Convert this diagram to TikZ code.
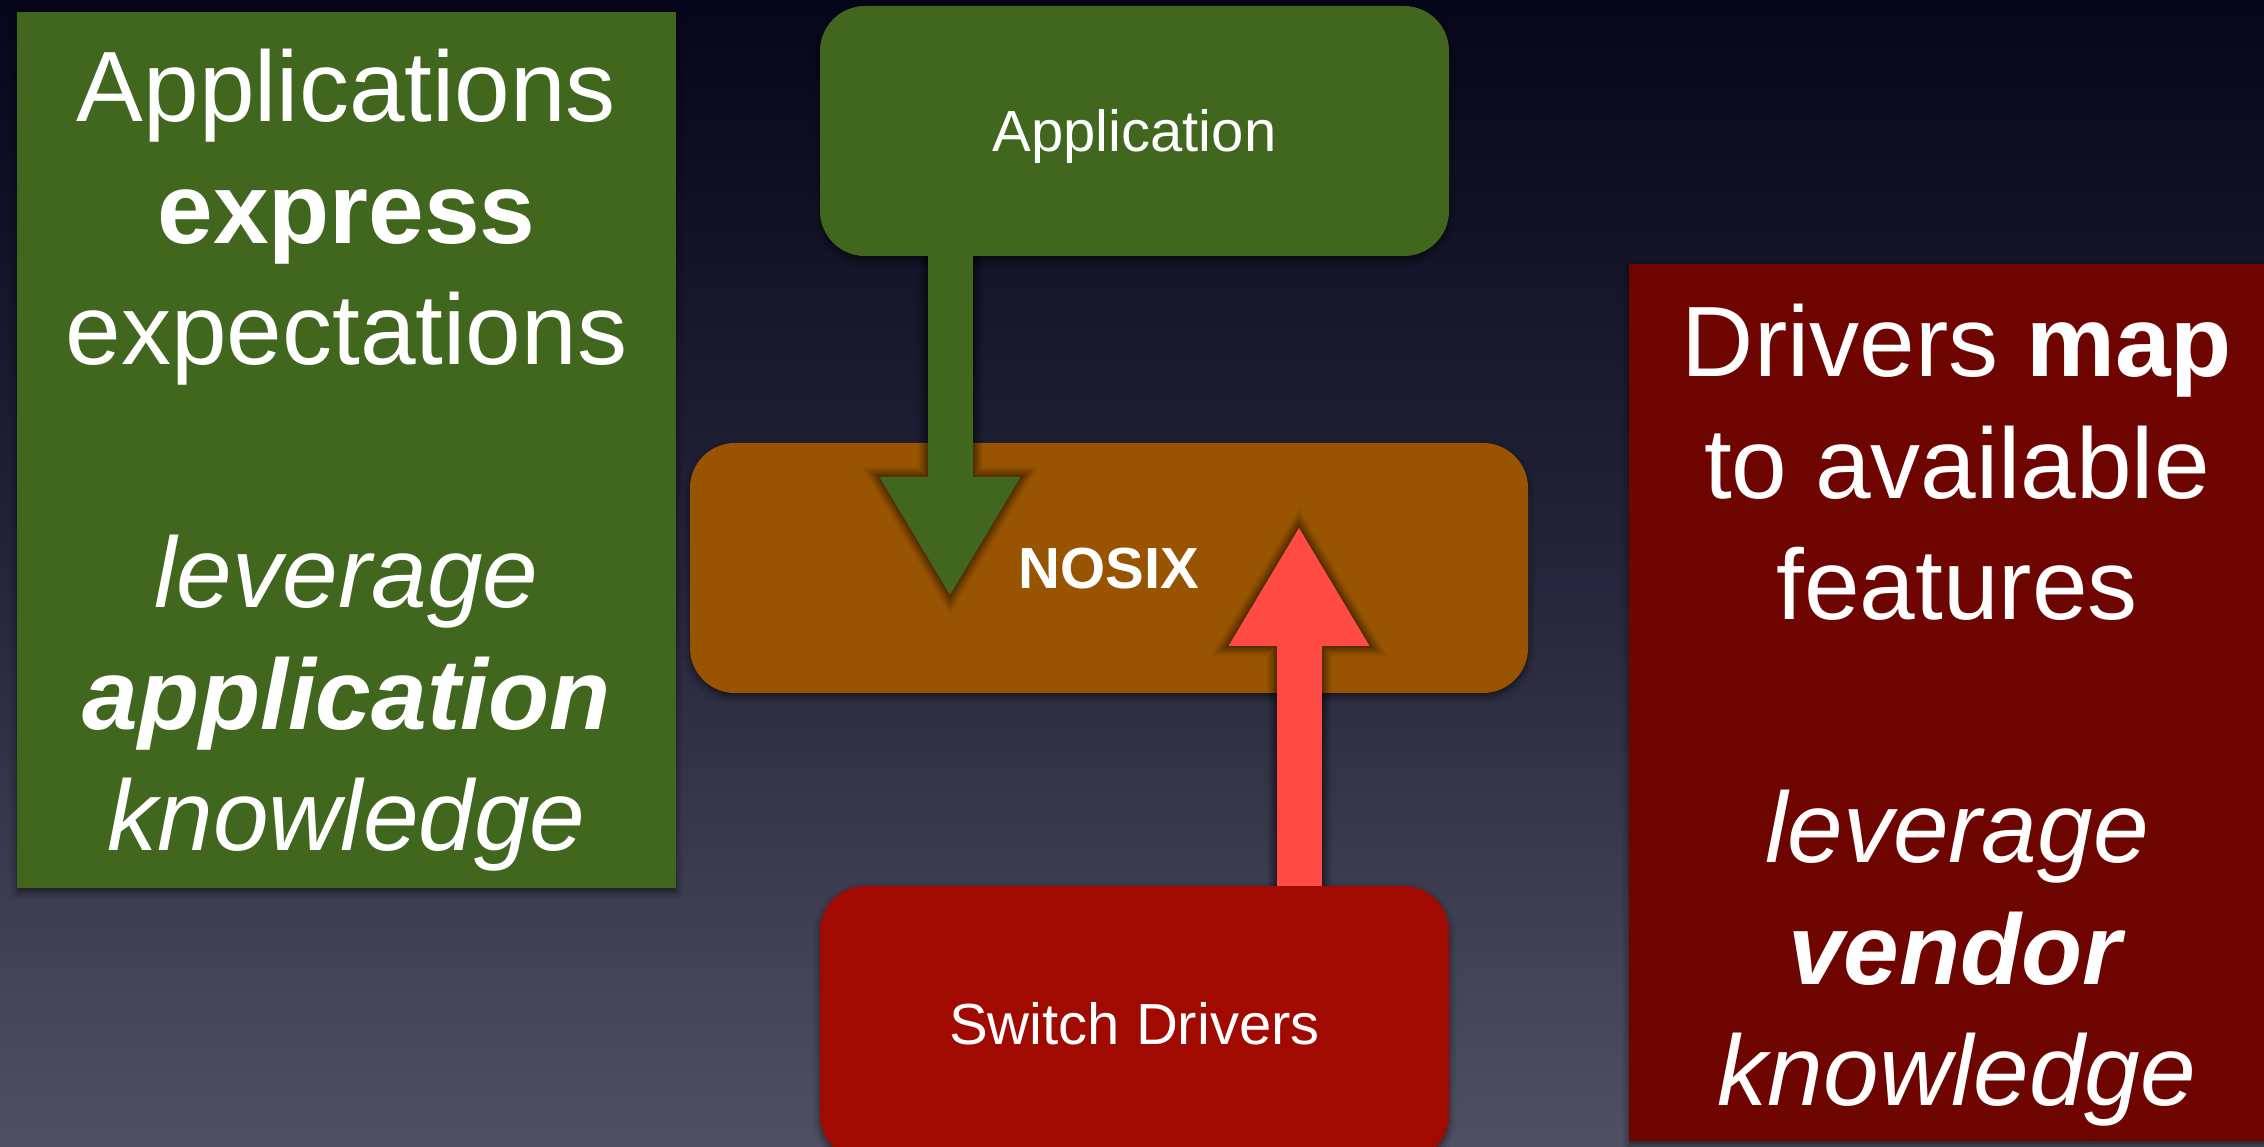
\documentclass[tikz,border=0pt]{standalone}
\usepackage{fontspec}
\setmainfont{Liberation Sans}
\usetikzlibrary{arrows.meta,shadows.blur}
\definecolor{bgtop}{HTML}{06061A}
\definecolor{bgmid}{HTML}{24253A}
\definecolor{bgbot}{HTML}{505064}
\definecolor{leaf}{HTML}{41671F}
\definecolor{amber}{HTML}{985400}
\definecolor{brick}{HTML}{A10A00}
\definecolor{maroon}{HTML}{6E0500}
\definecolor{coral}{HTML}{FF4B43}
\tikzset{
  boxshadow/.style={blur shadow={shadow xshift=0pt,shadow yshift=-4pt,shadow blur radius=7pt,shadow opacity=55}},
  layer/.style={rectangle, rounded corners=45pt, inner sep=0pt, minimum width=629pt,
    minimum height=250pt, text=white, text height=42pt, text depth=0pt,
    font=\fontsize{58pt}{70pt}\selectfont, boxshadow},
  panel/.style={rectangle, inner sep=0pt, boxshadow},
  paneltext/.style={text=white, align=center, inner sep=0pt,
    font=\fontsize{100pt}{121.5pt}\selectfont},
  % one ring of the soft shadow around a fat arrow: grown by #1, opacity #2
  halo/.style 2 args={preaction={draw=black, opacity=#2, line width=45pt+2*#1,
    line cap=butt, shorten >=-1.94*#1,
    -{Triangle[width=141pt+3.5*#1,length=118pt+2.94*#1,line width=0pt]}}},
  fatarrow/.style={draw=#1, line width=45pt, line cap=butt,
    halo={10pt}{0.06}, halo={8pt}{0.08}, halo={6pt}{0.10},
    halo={4pt}{0.12}, halo={2pt}{0.15},
    -{Triangle[width=141pt,length=118pt,line width=0pt]}}
}
\begin{document}
\begin{tikzpicture}[x=1pt,y=1pt]
\useasboundingbox (0,0) rectangle (2264,1146);
% slide background
\shade[top color=bgtop, bottom color=bgbot, middle color=bgmid] (0,0) rectangle (2264,1146);

% side panels
\node[panel, fill=leaf, minimum width=659pt, minimum height=876pt] (lpanel) at (346.5,696) {};
\node[paneltext] (ltext) at (346.5,685.5)
  {Applications\\ \textbf{express}\\ expectations\\[121.5pt]
   \textit{leverage}\\ \textbf{\textit{application}}\\ \textit{knowledge}};

\node[panel, fill=maroon, minimum width=651pt, minimum height=877pt] (rpanel) at (1954.5,443.5) {};
\node[paneltext] (rtext) at (1957,430.5)
  {Drivers \textbf{map}\\ to available\\ features\\[121.5pt]
   \textit{leverage}\\ \textbf{\textit{vendor}}\\ \textit{knowledge}};

% layer stack
\node[layer, fill=amber, minimum width=838pt, font=\fontsize{58pt}{70pt}\selectfont\bfseries] (nosix) at (1109,578) {NOSIX};
\node[layer, fill=leaf] (app) at (1134.5,1015) {Application};
\node[layer, fill=brick, minimum height=274pt] (drv) at (1134.5,123) {Switch Drivers};

% flows into NOSIX
\coordinate (gtip) at (950,551);
\coordinate (rtip) at (1299,618);
\draw[fatarrow=leaf] (app.south -| gtip) -- (gtip);
\draw[fatarrow=coral] (drv.north -| rtip) -- (rtip);
\end{tikzpicture}
\end{document}
